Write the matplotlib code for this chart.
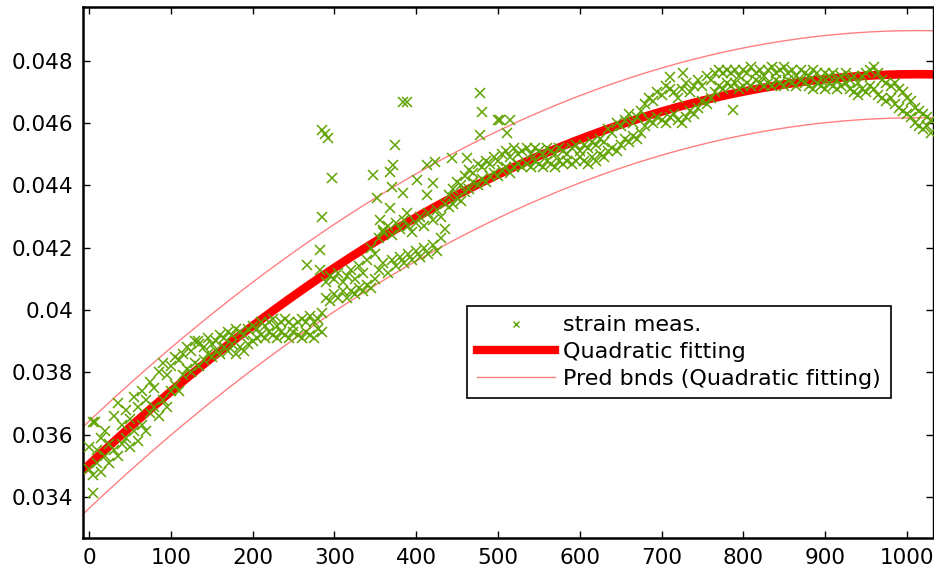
import numpy as np
import matplotlib.pyplot as plt
from matplotlib.lines import Line2D

plt.rcParams['font.family'] = ['DejaVu Sans']

# muestreo cada 5 unidades, 0..1030
meas_x = np.arange(0, 1031, 5)

# parte alta de la nube de medidas
meas_hi = [
    0.0356, 0.0364, 0.0355, 0.0359, 0.0361, 0.0357, 0.0366, 0.0370, 0.0363, 0.0368,
    0.0365, 0.0372, 0.0369, 0.0374, 0.0371, 0.0377, 0.0375, 0.0380, 0.0383, 0.0379,
    0.0382, 0.0385, 0.0384, 0.0386, 0.0388, 0.0387, 0.0390, 0.0389, 0.0388, 0.0391,
    0.0389, 0.0390, 0.0392, 0.0391, 0.0393, 0.0392, 0.0394, 0.0393, 0.0392, 0.0394,
    0.0395, 0.0394, 0.0396, 0.0395, 0.0396, 0.0397, 0.0395, 0.0396, 0.0397, 0.0396,
    0.0395, 0.0396, 0.0397, 0.0396, 0.0398, 0.0396, 0.0397, 0.0399, 0.0409, 0.0411,
    0.0410, 0.0412, 0.0409, 0.0411, 0.0413, 0.0410, 0.0414, 0.0412, 0.0416, 0.0420,
    0.0418, 0.0423, 0.0425, 0.0427, 0.0424, 0.0428, 0.0426, 0.0429, 0.0427, 0.0425,
    0.0428, 0.0430, 0.0427, 0.0431, 0.0429, 0.0432, 0.0430, 0.0434, 0.0437, 0.0439,
    0.0441, 0.0440, 0.0443, 0.0445, 0.0444, 0.0447, 0.0446, 0.0448, 0.0447, 0.0449,
    0.0448, 0.0450, 0.0451, 0.0449, 0.0452, 0.0450, 0.0451, 0.0452, 0.0450, 0.0452,
    0.0451, 0.0450, 0.0452, 0.0451, 0.0450, 0.0452, 0.0451, 0.0450, 0.0452, 0.0453,
    0.0451, 0.0453, 0.0452, 0.0454, 0.0453, 0.0455, 0.0454, 0.0458, 0.0457, 0.0460,
    0.0459, 0.0461, 0.0463, 0.0460, 0.0462, 0.0464, 0.0466, 0.0468, 0.0467, 0.0470,
    0.0469, 0.0472, 0.0471, 0.0470, 0.0468, 0.0471, 0.0473, 0.0470, 0.0472, 0.0474,
    0.0472, 0.0475, 0.0474, 0.0476, 0.0477, 0.0476, 0.0477, 0.0476, 0.0477, 0.0475,
    0.0477, 0.0476, 0.0478, 0.0476, 0.0477, 0.0475, 0.0477, 0.0478, 0.0476, 0.0477,
    0.0478, 0.0476, 0.0477, 0.0475, 0.0477, 0.0476, 0.0475, 0.0477, 0.0476, 0.0474,
    0.0476, 0.0475, 0.0476, 0.0474, 0.0475, 0.0476, 0.0474, 0.0475, 0.0473, 0.0475,
    0.0476, 0.0477, 0.0478, 0.0476, 0.0474, 0.0473, 0.0472, 0.0473, 0.0471, 0.0470,
    0.0468, 0.0467, 0.0465, 0.0464, 0.0463, 0.0462, 0.0461,
]

# parte baja de la nube de medidas
meas_lo = [
    0.0349, 0.0347, 0.0351, 0.0348, 0.0353, 0.0351, 0.0355, 0.0353, 0.0357, 0.0359,
    0.0356, 0.0361, 0.0358, 0.0363, 0.0361, 0.0367, 0.0369, 0.0366, 0.0371, 0.0369,
    0.0374, 0.0376, 0.0374, 0.0379, 0.0381, 0.0380, 0.0383, 0.0382, 0.0384, 0.0386,
    0.0385, 0.0387, 0.0386, 0.0388, 0.0387, 0.0389, 0.0386, 0.0388, 0.0387, 0.0389,
    0.0390, 0.0391, 0.0392, 0.0391, 0.0393, 0.0392, 0.0391, 0.0393, 0.0392, 0.0391,
    0.0393, 0.0392, 0.0391, 0.0393, 0.0392, 0.0391, 0.0394, 0.0393, 0.0404, 0.0403,
    0.0405, 0.0404, 0.0406, 0.0404, 0.0406, 0.0405, 0.0407, 0.0406, 0.0408, 0.0407,
    0.0410, 0.0413, 0.0415, 0.0412, 0.0416, 0.0414, 0.0417, 0.0415, 0.0418, 0.0416,
    0.0419, 0.0417, 0.0420, 0.0418, 0.0421, 0.0419, 0.0423, 0.0426, 0.0433, 0.0434,
    0.0436, 0.0435, 0.0438, 0.0439, 0.0441, 0.0440, 0.0442, 0.0441, 0.0443, 0.0444,
    0.0443, 0.0445, 0.0446, 0.0444, 0.0446, 0.0447, 0.0446, 0.0447, 0.0446, 0.0448,
    0.0447, 0.0446, 0.0448, 0.0447, 0.0446, 0.0448, 0.0447, 0.0448, 0.0447, 0.0448,
    0.0449, 0.0448, 0.0447, 0.0449, 0.0448, 0.0450, 0.0449, 0.0451, 0.0452, 0.0451,
    0.0453, 0.0455, 0.0454, 0.0456, 0.0455, 0.0457, 0.0459, 0.0461, 0.0460, 0.0462,
    0.0461, 0.0460, 0.0462, 0.0463, 0.0461, 0.0460, 0.0462, 0.0464, 0.0463, 0.0465,
    0.0467, 0.0466, 0.0468, 0.0470, 0.0472, 0.0471, 0.0473, 0.0472, 0.0473, 0.0471,
    0.0472, 0.0473, 0.0472, 0.0474, 0.0473, 0.0472, 0.0473, 0.0472, 0.0474, 0.0473,
    0.0472, 0.0474, 0.0473, 0.0472, 0.0474, 0.0473, 0.0472, 0.0471, 0.0473, 0.0472,
    0.0471, 0.0473, 0.0472, 0.0471, 0.0472, 0.0473, 0.0471, 0.0470, 0.0469, 0.0471,
    0.0470, 0.0472, 0.0471, 0.0469, 0.0468, 0.0467, 0.0468, 0.0466, 0.0465, 0.0464,
    0.0463, 0.0462, 0.0460, 0.0459, 0.0458, 0.0459, 0.0457,
]

# puntos sueltos fuera de la banda
out_x = [5, 7, 133, 266, 282, 282, 285, 285, 289, 292, 297, 347, 352, 356, 360,
         368, 368, 371, 372, 374, 384, 389, 384, 389, 401, 413, 413, 421, 423,
         444, 462, 478, 480, 478, 500, 502, 515, 511, 710, 726, 787]
out_y = [0.03413, 0.0364, 0.0390, 0.04145, 0.04193, 0.04129, 0.04299, 0.04578,
         0.04565, 0.04553, 0.04424, 0.04434, 0.0436, 0.0429, 0.04257, 0.04444,
         0.04328, 0.04396, 0.04466, 0.0453, 0.04668, 0.04668, 0.04376, 0.04312,
         0.04418, 0.04466, 0.0437, 0.04409, 0.04476, 0.04489, 0.04489, 0.04697,
         0.04636, 0.04562, 0.04611, 0.04611, 0.04611, 0.04569, 0.04749, 0.04761,
         0.04643]

# ajuste cuadratico (p1, p2, p3) y ancho de la banda de prediccion
fit_coef = [-1.22e-8, 2.474e-5, 0.03503]
pred_half = 0.0014

x_all = np.concatenate([meas_x, meas_x, out_x])
y_all = np.concatenate([meas_hi, meas_lo, out_y])

fig = plt.figure(figsize=(9.34, 5.69), dpi=100)
ax = fig.add_axes([0.0889, 0.0545, 0.9101, 0.9332])

xf = np.linspace(-8, 1033, 400)
yf = np.polyval(fit_coef, xf)
green = '#5fa300'
ax.plot(xf, yf, color='red', lw=6.2, solid_capstyle='butt', zorder=2)
ax.plot(xf, yf + pred_half, color='#ff8080', lw=1, zorder=2)
ax.plot(xf, yf - pred_half, color='#ff8080', lw=1, zorder=2)
ax.plot(x_all, y_all, 'x', color=green, ms=6.5, mew=1.1, zorder=3)

ax.set_xlim(-7.3, 1032)
ax.set_ylim(0.03268, 0.04973)
ax.set_xticks(np.arange(0, 1001, 100))
ax.set_yticks([0.034, 0.036, 0.038, 0.04, 0.042, 0.044, 0.046, 0.048])
ax.set_yticklabels(['0.034', '0.036', '0.038', '0.04', '0.042', '0.044', '0.046', '0.048'])
ax.tick_params(direction='in', top=True, right=True, length=5, width=1,
               labelsize=15.5, pad=7)
for s in ['left', 'top', 'bottom']:
    ax.spines[s].set_linewidth(1.8)
ax.spines['right'].set_linewidth(1)

handles = [
    Line2D([], [], ls='none', marker='x', color=green, ms=5, mew=1),
    Line2D([], [], color='red', lw=6),
    Line2D([], [], color='#ff8080', lw=1),
]
labels = ['strain meas.', 'Quadratic fitting', 'Pred bnds (Quadratic fitting)']
leg = ax.legend(handles, labels, loc='upper left', bbox_to_anchor=(0.452, 0.437),
                borderaxespad=0, fontsize=16, handlelength=3.55, handletextpad=0.36,
                labelspacing=0.3, borderpad=0.42, fancybox=False, framealpha=1,
                edgecolor='black')
leg.get_frame().set_linewidth(1.2)

fig.savefig('out.png', dpi=100)
